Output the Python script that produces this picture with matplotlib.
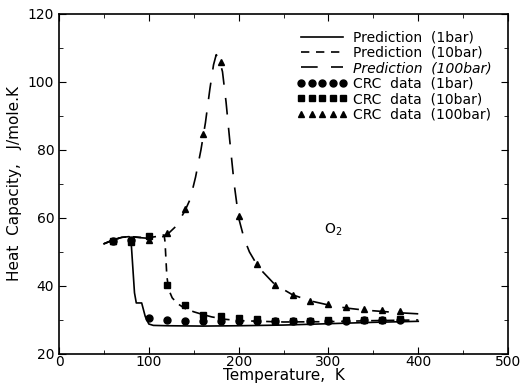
import matplotlib.pyplot as plt
import numpy as np
from matplotlib.ticker import MultipleLocator

# Predicao (linhas)
t_1bar = [50, 60, 70, 78, 80, 82, 84, 86, 92, 96, 100, 105, 120, 160, 200, 250, 300, 350, 400]
cp_1bar = [52.4, 53.5, 54.3, 54.5, 54.0, 46.0, 38.0, 35.0, 35.0, 31.0, 28.8, 28.4, 28.3, 28.2, 28.3, 28.5, 28.9, 29.3, 29.6]

t_10bar = [50, 60, 70, 80, 90, 100, 110, 117, 118, 119, 120, 122, 126, 132, 140, 150, 160, 170, 185, 200, 250, 300, 350, 400]
cp_10bar = [52.4, 53.5, 54.3, 54.5, 54.3, 54.2, 54.6, 55.0, 53.0, 48.0, 43.0, 39.0, 36.5, 34.8, 33.4, 32.4, 31.6, 30.9, 30.2, 29.8, 29.4, 29.5, 29.8, 30.0]

t_100bar = [50, 60, 70, 80, 90, 100, 110, 120, 130, 140, 146, 152, 158, 163, 168, 172, 175, 178, 182, 186, 190, 195, 200, 206, 212, 222, 240, 260, 280, 300, 320, 340, 360, 380, 400]
cp_100bar = [52.4, 53.5, 54.3, 54.5, 54.2, 54.0, 53.8, 55.0, 57.5, 62.0, 65.5, 72.0, 80.0, 88.0, 98.0, 105.0, 108.0, 107.0, 103.0, 94.0, 83.0, 70.0, 60.0, 54.0, 50.0, 45.5, 40.5, 37.4, 35.6, 34.4, 33.5, 32.9, 32.5, 32.1, 31.8]

# Dados CRC (marcadores)
t_crc = [60, 80, 100, 120, 140, 160, 180, 200, 220, 240, 260, 280, 300, 320, 340, 360, 380]
crc_1bar = [53.2, 53.5, 30.5, 29.9, 29.6, 29.6, 29.7, 29.7, 29.8, 29.6, 29.7, 29.7, 29.8, 29.8, 29.9, 30.0, 30.0]
crc_10bar = [53.2, 53.0, 54.8, 40.3, 34.3, 31.5, 31.2, 30.5, 30.2, 29.8, 29.8, 29.8, 29.9, 29.9, 30.0, 30.1, 30.2]
crc_100bar = [53.2, 53.5, 53.5, 55.5, 62.5, 84.8, 105.8, 60.5, 46.4, 40.3, 37.4, 35.7, 34.6, 33.7, 33.3, 32.9, 32.6]

plt.rcParams["font.family"] = ["DejaVu Sans"]

fig = plt.figure(figsize=(5.32, 3.86), dpi=100)
ax = fig.add_axes([0.111, 0.083, 0.844, 0.881])

ax.plot(t_1bar, cp_1bar, "k-", lw=1.2, label="Prediction  (1bar)")
ax.plot(t_10bar, cp_10bar, "k", lw=1.2, dashes=(5, 4), label="Prediction  (10bar)")
ax.plot(t_100bar, cp_100bar, "k", lw=1.2, dashes=(10, 8), label="Prediction  (100bar)")
ax.plot(t_crc, crc_1bar, "ko", ms=5, ls="none", label="CRC  data  (1bar)")
ax.plot(t_crc, crc_10bar, "ks", ms=5, ls="none", label="CRC  data  (10bar)")
ax.plot(t_crc, crc_100bar, "k^", ms=5, ls="none", label="CRC  data  (100bar)")

ax.set_xlim(0, 500)
ax.set_ylim(20, 120)
ax.xaxis.set_major_locator(MultipleLocator(100))
ax.xaxis.set_minor_locator(MultipleLocator(50))
ax.yaxis.set_major_locator(MultipleLocator(20))
ax.yaxis.set_minor_locator(MultipleLocator(10))
ax.tick_params(which="both", direction="in", top=True, right=True, labelsize=10)
ax.tick_params(which="major", length=5)
ax.tick_params(which="minor", length=3)
ax.tick_params(axis="x", pad=1)
for s in ax.spines.values():
    s.set_linewidth(1.2)

ax.set_xlabel("Temperature,  K", fontsize=11, labelpad=-1)
ax.set_ylabel("Heat  Capacity,   J/mole.K", fontsize=11, labelpad=4)
ax.text(295, 55.5, "O$_2$", fontsize=10)

leg = ax.legend(loc="upper right", frameon=False, numpoints=5, handlelength=3.6,
                fontsize=10, labelspacing=0.1, handletextpad=0.4,
                borderaxespad=0.8)
leg.get_texts()[2].set_style("italic")

fig.savefig("out.png", dpi=100)
